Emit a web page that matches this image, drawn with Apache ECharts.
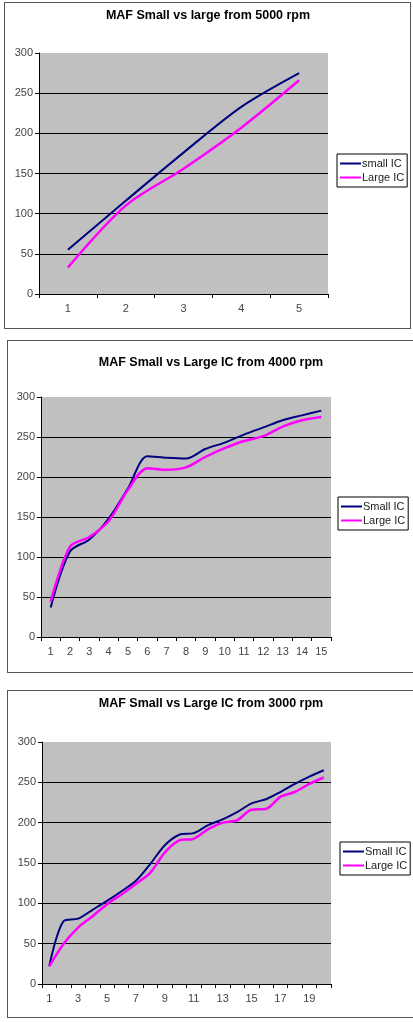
<!DOCTYPE html>
<html lang="en">
<head>
    <meta charset="UTF-8">
    <title>MAF Small vs Large IC</title>
    <script src="https://cdn.jsdelivr.net/npm/echarts@6/dist/echarts.min.js"></script>
    <style>
        body { margin: 0; background: #fff; overflow: hidden; }
        .box { position: absolute; border: 1px solid #555; }
        #chartmain { position: absolute; left: 0; top: 0; width: 413px; height: 1023px; }
    </style>
</head>
<body>
<div class="box" style="left:4px;top:2px;width:405px;height:325px"></div>
<div class="box" style="left:7px;top:340px;width:410px;height:331px"></div>
<div class="box" style="left:7px;top:690px;width:410px;height:326px"></div>
<div id="chartmain"></div>
<script type="text/javascript">
    // chart 1 - from 5000 rpm
    var cats1 = ['1', '2', '3', '4', '5'];
    var small1 = [55, 116, 176, 233, 275];
    var large1 = [33, 110, 156, 207, 266];

    // chart 2 - from 4000 rpm
    var cats2 = ['1', '2', '3', '4', '5', '6', '7', '8', '9', '10', '11', '12', '13', '14', '15'];
    var small2 = [37, 107, 122, 148, 186, 226, 224, 223, 235, 243, 253, 262, 271, 277, 283];
    var large2 = [44, 113, 125, 145, 184, 211, 209, 212, 225, 236, 245, 251, 263, 271, 275];

    // chart 3 - from 3000 rpm
    var cats3 = ['1', '2', '3', '4', '5', '6', '7', '8', '9', '10', '11', '12', '13', '14', '15', '16', '17', '18', '19', '20'];
    var small3 = [22, 78, 81, 92, 103, 115, 128, 149, 172, 185, 187, 197, 204, 213, 224, 229, 238, 248, 257, 265];
    var large3 = [22, 50, 70, 84, 99, 111, 124, 138, 163, 178, 180, 192, 200, 203, 216, 217, 232, 238, 248, 256];

    var titles = ['MAF Small vs large from 5000 rpm', 'MAF Small vs Large IC from 4000 rpm', 'MAF Small vs Large IC from 3000 rpm'];
    var smallNames = ['small IC', 'Small IC', 'Small IC'];
    var largeName = 'Large IC';

    var font = 'Liberation Sans, Arial, sans-serif';
    var grids = [
        {left: 39, top: 53, width: 289, height: 241},
        {left: 41, top: 397, width: 290, height: 240},
        {left: 42, top: 742, width: 289, height: 242}
    ];
    var titlePos = [[208, 9], [211, 356], [211, 697]];
    var legendPos = [[337, 154], [338, 497], [340, 842]];
    var cats = [cats1, cats2, cats3];
    var smalls = [small1, small2, small3];
    var larges = [large1, large2, large3];

    var myChart = echarts.init(document.getElementById('chartmain'));
    var option = {
        backgroundColor: 'transparent',
        animation: false,
        title: [], legend: [], grid: [], xAxis: [], yAxis: [], series: []
    };
    for (var i = 0; i < 3; i++) {
        option.title.push({
            text: titles[i],
            left: titlePos[i][0],
            top: titlePos[i][1],
            textAlign: 'center',
            padding: 0,
            textStyle: {fontFamily: font, fontSize: 12.5, fontWeight: 'bold', color: '#000'}
        });
        option.legend.push({
            left: legendPos[i][0],
            top: legendPos[i][1],
            orient: 'vertical',
            backgroundColor: '#fff',
            borderColor: '#000',
            borderWidth: 1,
            padding: [4, 3, 4, 3],
            itemGap: 3,
            itemWidth: 21,
            itemHeight: 2,
            icon: 'rect',
            selectedMode: false,
            data: [smallNames[i], largeName],
            textStyle: {fontFamily: font, fontSize: 11, color: '#222', padding: [0, 0, 0, -4]}
        });
        option.grid.push({
            left: grids[i].left, top: grids[i].top, width: grids[i].width, height: grids[i].height,
            show: true, backgroundColor: '#c0c0c0', borderWidth: 0
        });
        option.xAxis.push({
            type: 'category',
            gridIndex: i,
            data: cats[i],
            boundaryGap: true,
            axisLine: {lineStyle: {color: '#000', width: 1}},
            axisTick: {show: true, length: 4, interval: 0, lineStyle: {color: '#000'}},
            axisLabel: {fontFamily: font, fontSize: 11, color: '#444', margin: 9, interval: i === 2 ? 1 : 0}
        });
        option.yAxis.push({
            type: 'value',
            gridIndex: i,
            min: 0, max: 300, interval: 50,
            axisLine: {show: true, lineStyle: {color: '#000', width: 1}},
            axisTick: {show: true, length: 4, lineStyle: {color: '#000'}},
            axisLabel: {fontFamily: font, fontSize: 11, color: '#444', margin: 6},
            splitLine: {show: true, showMaxLine: false, showMinLine: false, lineStyle: {color: '#000', width: 1}}
        });
        option.series.push({
            name: smallNames[i], type: 'line', xAxisIndex: i, yAxisIndex: i,
            data: smalls[i], smooth: 0.3, symbol: 'none',
            itemStyle: {color: '#000080'},
            lineStyle: {color: '#000080', width: 2}
        });
        option.series.push({
            name: largeName, type: 'line', xAxisIndex: i, yAxisIndex: i,
            data: larges[i], smooth: 0.3, symbol: 'none',
            itemStyle: {color: '#ff00ff'},
            lineStyle: {color: '#ff00ff', width: 2.5}
        });
    }
    myChart.setOption(option);
</script>
</body>
</html>
